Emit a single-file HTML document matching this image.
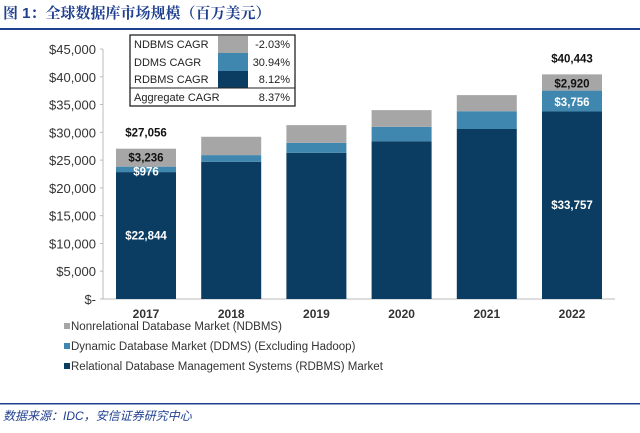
<!DOCTYPE html>
<html><head><meta charset="utf-8"><style>
body{margin:0;background:#fff;width:640px;height:428px;overflow:hidden;font-family:"Liberation Sans","Noto Sans CJK SC",sans-serif;}
</style></head><body>
<svg width="640" height="428" xmlns="http://www.w3.org/2000/svg">
<text x="3" y="18" font-size="15" font-weight="bold" fill="#1f3f8f" font-family="'Liberation Sans','Noto Serif CJK SC',serif">图 1：全球数据库市场规模（百万美元）</text>
<rect x="0" y="28" width="640" height="2" fill="#1f3f8f"/>
<g id="axes"></g>
<g id="bars"></g>
<g font-size="11" fill="#222">
<rect x="130" y="35" width="165" height="71" fill="#fff" stroke="#222" stroke-width="1.3"/>
<rect x="218" y="36" width="30" height="17" fill="#a6a6a6"/>
<rect x="218" y="53" width="30" height="18" fill="#3f87ae"/>
<rect x="218" y="71" width="30" height="17" fill="#0b3d63"/>
<line x1="130" y1="88" x2="295" y2="88" stroke="#222"/>
<text x="134" y="48">NDBMS CAGR</text><text x="290" y="48" text-anchor="end">-2.03%</text>
<text x="134" y="66">DDMS CAGR</text><text x="290" y="66" text-anchor="end">30.94%</text>
<text x="134" y="83">RDBMS CAGR</text><text x="290" y="83" text-anchor="end">8.12%</text>
<text x="134" y="101">Aggregate CAGR</text><text x="290" y="101" text-anchor="end">8.37%</text>
</g>
<g font-size="11.5" fill="#333">
<rect x="64" y="323" width="6" height="6" fill="#a6a6a6"/><text x="71" y="330">Nonrelational Database Market (NDBMS)</text>
<rect x="64" y="343" width="6" height="6" fill="#3f87ae"/><text x="71" y="350">Dynamic Database Market (DDMS) (Excluding Hadoop)</text>
<rect x="64" y="363" width="6" height="6" fill="#0b3d63"/><text x="71" y="370">Relational Database Management Systems (RDBMS) Market</text>
</g>
<rect x="0" y="403" width="640" height="1.5" fill="#1f3f8f"/>
<text x="3" y="420" font-size="12" font-style="italic" fill="#1f3f8f" font-family="'Liberation Sans','Noto Sans CJK SC',sans-serif">数据来源：IDC，安信证券研究中心</text>
</svg>
<script>
const years=["2017","2018","2019","2020","2021","2022"];
const rdbms=[22844,24700,26300,28400,30600,33757];
const ddms=[976,1200,1800,2600,3200,3756];
const ndbms=[3236,3300,3200,3000,2900,2920];
const yTicks=[0,5000,10000,15000,20000,25000,30000,35000,40000,45000];
const yTickLabels=["$-","$5,000","$10,000","$15,000","$20,000","$25,000","$30,000","$35,000","$40,000","$45,000"];
const totalLabels={0:"$27,056",5:"$40,443"};
const segLabels={0:["$22,844","$976","$3,236"],5:["$33,757","$3,756","$2,920"]};
const NS="http://www.w3.org/2000/svg";
const y0=299,yTop=49,maxV=45000;
function yScale(v){return y0-(v/maxV)*(y0-yTop);}
function xCenter(i){return 146+i*85.2;}
const bw=60;
const axes=document.getElementById('axes'),bars=document.getElementById('bars');
function mk(tag,attrs,parent){const e=document.createElementNS(NS,tag);for(const k in attrs)e.setAttribute(k,attrs[k]);parent.appendChild(e);return e;}
let ax=mk('line',{x1:103,y1:yTop,x2:103,y2:y0,stroke:'#bbb'},axes);


let bx=mk('line',{x1:100,y1:y0,x2:615,y2:y0,stroke:'#bbb'},axes);


yTicks.forEach((v,i)=>{
 const t=mk('text',{x:96,y:yScale(v)+5,'text-anchor':'end','font-size':13,fill:'#333'},axes);
 t.textContent=yTickLabels[i];
 
 
 const tk=mk('line',{x1:100,y1:yScale(v),x2:103,y2:yScale(v),stroke:'#bbb'},axes);
 
 
});
years.forEach((yr,i)=>{
 const cx=xCenter(i),x=cx-bw/2;
 const t=mk('text',{x:cx,y:318,'text-anchor':'middle','font-size':12,'font-weight':'bold',fill:'#333'},axes);
 t.textContent=yr;
 
 
 const segs=[[rdbms[i],'#0b3d63','bar-rdbms'],[ddms[i],'#3f87ae','bar-ddms'],[ndbms[i],'#a6a6a6','bar-ndbms']];
 let base=0;const mids=[];
 segs.forEach(s=>{
  const yA=yScale(base+s[0]),yB=yScale(base);
  const r=mk('rect',{x:x,y:yA,width:bw,height:yB-yA,fill:s[1]},bars);
  
  
  mids.push((yA+yB)/2);base+=s[0];
 });
 if(segLabels[i]){
  const cols=['#fff','#fff','#111'];
  const ys=i===0?[mids[0]+4,mids[1]+6,mids[2]+4]:[mids[0]+4,mids[1]+5,mids[2]+5];
  segLabels[i].forEach((l,k)=>{
   const tt=mk('text',{x:cx,y:ys[k],'text-anchor':'middle','font-size':11.5,'font-weight':'bold',fill:cols[k]},bars);
   tt.textContent=l;
   
   
  });
 }
 if(totalLabels[i]){
  const tt=mk('text',{x:cx,y:yScale(base)-12,'text-anchor':'middle','font-size':11.5,'font-weight':'bold',fill:'#111'},bars);
  tt.textContent=totalLabels[i];
  
  
 }
});
</script>
</body></html>
